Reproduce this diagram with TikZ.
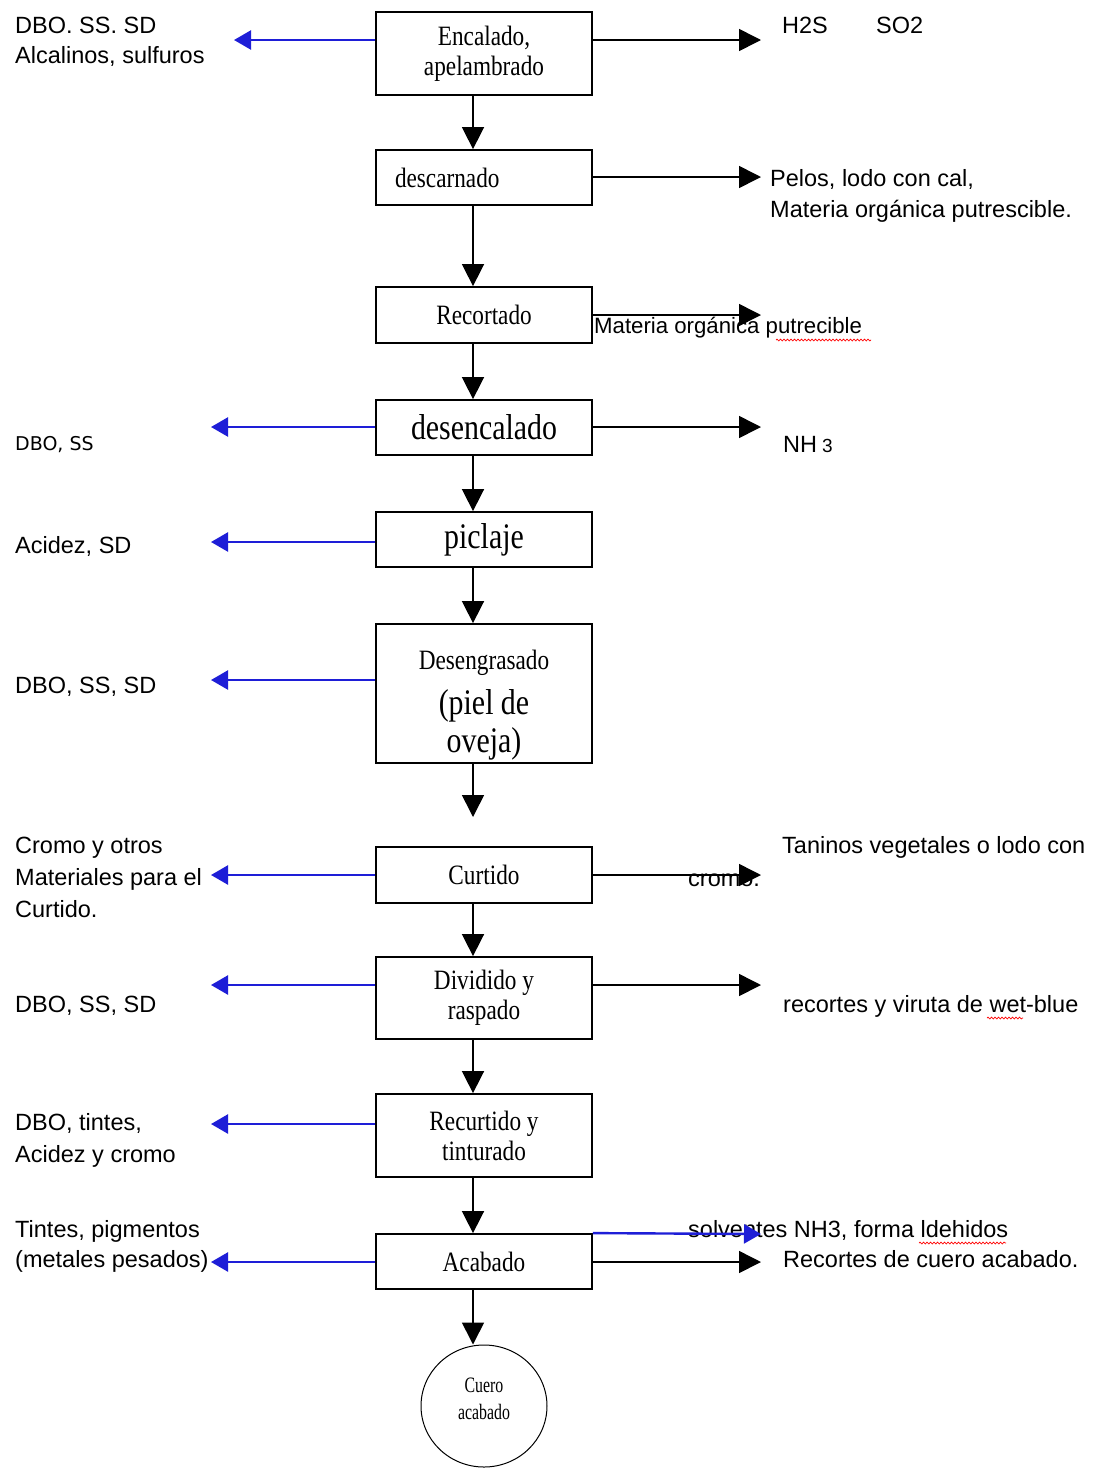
\documentclass[tikz,border=0pt]{standalone}
\usepackage{fontspec}
\newfontfamily\bxf{Liberation Serif}[FakeStretch=0.83]
\newfontfamily\smf{Liberation Serif}[FakeStretch=0.72]
\newfontfamily\lbf{Liberation Sans}
\newfontfamily\djf{DejaVu Sans}
\usetikzlibrary{arrows.meta,decorations.pathmorphing,shapes.geometric}
\definecolor{arrblue}{RGB}{30,30,215}
\begin{document}
\begin{tikzpicture}[x=1pt,y=-1pt,
 box/.style={draw,line width=1.8pt,minimum width=216pt,inner sep=0pt,align=center,font=\bxf\fontsize{28}{30}\selectfont},
 big/.style={font=\bxf\fontsize{36}{38}\selectfont},
 flow/.style={line width=1.6pt,-{Triangle[length=22pt,width=22pt]}},
 blu/.style={line width=2.4pt,color=arrblue,-{Triangle[length=17pt,width=19pt]}},
 lab/.style={anchor=base west,inner sep=0pt,font=\lbf\fontsize{23.5}{28}\selectfont},
 wave/.style={red,line width=0.7pt,decorate,decoration={snake,amplitude=0.9pt,segment length=3.5pt}},
]
\useasboundingbox (0,0) rectangle (1095,1468);
\fill[white] (0,0) rectangle (1095,1468);

% axis for vertical flow
\coordinate (ax) at (473,0);

% process boxes
\node[box,minimum height=83pt] (b1) at (484,53.5) {Encalado,\\apelambrado};
\node[box,minimum height=55pt,text width=178pt,align=left] (b2) at (484,177.5) {descarnado};
\node[box,minimum height=56pt] (b3) at (484,315) {Recortado};
\node[box,big,minimum height=55pt] (b4) at (484,427.5) {desencalado};
\node[box,big,minimum height=55pt] (b5) at (484,539.5) {piclaje};
\node[box,minimum height=139pt] (b6) at (484,693.5) {\rule{0pt}{42pt}Desengrasado\\[13pt]{\fontsize{36}{38}\selectfont (piel de}\\[4pt]{\fontsize{36}{38}\selectfont oveja)}};
\node[box,minimum height=56pt] (b7) at (484,875) {Curtido};
\node[box,minimum height=82pt] (b8) at (484,998) {Dividido y\\raspado};
\node[box,minimum height=83pt] (b9) at (484,1135.5) {Recurtido y\\tinturado};
\node[box,minimum height=55pt] (b10) at (484,1261.5) {Acabado};
\node[draw,ellipse,line width=1pt,minimum width=126pt,minimum height=122pt,inner sep=0pt,align=center,
      font=\smf\fontsize{22}{27}\selectfont] (end) at (484,1406) {Cuero\\acabado\rule[-14pt]{0pt}{14pt}};

% labels left
\node[lab] (l1a) at (15,33) {DBO. SS. SD};
\node[lab] (l1b) at (15,63) {Alcalinos, sulfuros};
\node[lab,font=\djf\fontsize{19}{22}\selectfont] (l4) at (15,450) {DBO, SS};
\node[lab] (l5) at (15,553) {Acidez, SD};
\node[lab] (l6) at (15,693) {DBO, SS, SD};
\node[lab] (l7a) at (15,853) {Cromo y otros};
\node[lab] (l7b) at (15,885) {Materiales para el};
\node[lab] (l7c) at (15,917) {Curtido.};
\node[lab] (l8) at (15,1012) {DBO, SS, SD};
\node[lab] (l9a) at (15,1130) {DBO, tintes,};
\node[lab] (l9b) at (15,1162) {Acidez y cromo};
\node[lab] (l10a) at (15,1237) {Tintes, pigmentos};
\node[lab] (l10b) at (15,1267) {(metales pesados)};

% labels right
\node[lab] (r1a) at (782,33) {H2S};
\node[lab] (r1b) at (876,33) {SO2};
\node[lab] (r2a) at (770,186) {Pelos, lodo con cal,};
\node[lab] (r2b) at (770,217) {Materia orgánica putrescible.};
\node[lab,font=\lbf\fontsize{22.2}{26}\selectfont] (r3) at (594,333) {Materia orgánica putrecible};
\node[lab] (r4) at (783,452) {NH\hspace{5pt}{\fontsize{19}{20}\selectfont 3}};
\node[lab] (r7a) at (782,853) {Taninos vegetales o lodo con};
\node[lab] (r7b) at (688,886) {cromo.};
\node[lab] (r8) at (783,1012) {recortes y viruta de wet-blue};
\node[lab] (r10a) at (688,1237) {solventes NH3, forma ldehidos};
\node[lab] (r10b) at (783,1267) {Recortes de cuero acabado.};

% spelling-check wavy underlines
\draw[wave] (776,340) -- (871,340);
\draw[wave] (987,1018) -- (1023,1018);
\draw[wave] (919,1243) -- (1006,1243);

% vertical flow
\coordinate (c67) at (473,817);
\draw[flow] (b1.south -| ax) -- (b2.north -| ax);
\draw[flow] (b2.south -| ax) -- (b3.north -| ax);
\draw[flow] (b3.south -| ax) -- (b4.north -| ax);
\draw[flow] (b4.south -| ax) -- (b5.north -| ax);
\draw[flow] (b5.south -| ax) -- (b6.north -| ax);
\draw[flow] (b6.south -| ax) -- (c67);
\draw[flow] (b7.south -| ax) -- (b8.north -| ax);
\draw[flow] (b8.south -| ax) -- (b9.north -| ax);
\draw[flow] (b9.south -| ax) -- (b10.north -| ax);
\draw[flow] (b10.south -| ax) -- (end.north -| ax);

% left (blue) outputs
\coordinate (tl1) at (234,40);
\coordinate (tl4) at (211,427);
\coordinate (tl5) at (211,542);
\coordinate (tl6) at (211,680);
\coordinate (tl7) at (211,875);
\coordinate (tl8) at (211,985);
\coordinate (tl9) at (211,1124);
\coordinate (tl10) at (211,1262);
\draw[blu] (b1.west |- tl1) -- (tl1);
\draw[blu] (b4.west |- tl4) -- (tl4);
\draw[blu] (b5.west |- tl5) -- (tl5);
\draw[blu] (b6.west |- tl6) -- (tl6);
\draw[blu] (b7.west |- tl7) -- (tl7);
\draw[blu] (b8.west |- tl8) -- (tl8);
\draw[blu] (b9.west |- tl9) -- (tl9);
\draw[blu] (b10.west |- tl10) -- (tl10);

% right (black) outputs
\coordinate (tr1) at (761,40);
\coordinate (tr2) at (761,177);
\coordinate (tr3) at (761,315);
\coordinate (tr4) at (761,427);
\coordinate (tr7) at (761,875);
\coordinate (tr8) at (761,985);
\coordinate (tr10) at (761,1262);
\coordinate (tr10b) at (761,1234);
\draw[flow] (b1.east |- tr1) -- (tr1);
\draw[flow] (b2.east |- tr2) -- (tr2);
\draw[flow] (b3.east |- tr3) -- (tr3);
\draw[flow] (b4.east |- tr4) -- (tr4);
\draw[flow] (b7.east |- tr7) -- (tr7);
\draw[flow] (b8.east |- tr8) -- (tr8);
\draw[flow] (b10.east |- tr10) -- (tr10);
\draw[blu] (b10.north east) -- (tr10b);
\end{tikzpicture}
\end{document}
